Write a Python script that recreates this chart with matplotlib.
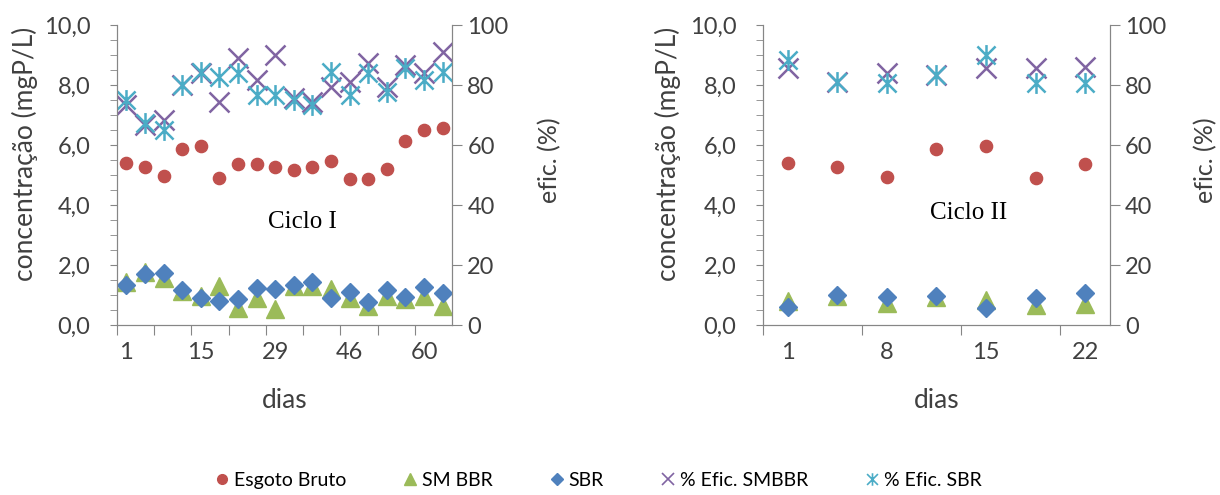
import matplotlib
matplotlib.use("Agg")
import matplotlib.pyplot as plt
from matplotlib.path import Path
from matplotlib.lines import Line2D
from matplotlib.ticker import MultipleLocator, FixedLocator, FuncFormatter

plt.rcParams['font.family'] = ['Lato', 'DejaVu Sans']

# Ciclo I
dias_c1 = [1, 4, 8, 11, 15, 18, 22, 25, 29, 32, 36, 39, 46, 50, 53, 57, 60, 64]
bruto_c1 = [5.39, 5.28, 4.97, 5.87, 5.97, 4.89, 5.36, 5.37, 5.28, 5.17, 5.28, 5.48, 4.87, 4.87, 5.19, 6.13, 6.50, 6.56]
smbbr_c1 = [1.42, 1.78, 1.58, 1.14, 0.97, 1.31, 0.58, 0.89, 0.53, 1.30, 1.31, 1.20, 0.89, 0.64, 0.97, 0.86, 0.97, 0.64]
sbr_c1 = [1.33, 1.70, 1.74, 1.17, 0.89, 0.81, 0.86, 1.22, 1.19, 1.33, 1.44, 0.89, 1.11, 0.78, 1.17, 0.94, 1.26, 1.06]
ef_smbbr_c1 = [73.5, 66.7, 68.3, 80.0, 83.9, 74.4, 88.9, 81.7, 90.0, 75.6, 74.4, 79.4, 81.0, 87.2, 79.4, 86.7, 83.9, 91.1]
ef_sbr_c1 = [75.0, 67.2, 65.0, 80.0, 84.4, 82.8, 83.9, 76.7, 76.7, 75.0, 73.3, 84.4, 76.7, 83.9, 77.8, 85.6, 81.7, 84.4]

# Ciclo II
dias_c2 = [1, 4, 8, 11, 15, 18, 22]
bruto_c2 = [5.39, 5.28, 4.94, 5.87, 5.97, 4.89, 5.36]
smbbr_c2 = [0.81, 0.97, 0.72, 0.92, 0.84, 0.66, 0.69]
sbr_c2 = [0.59, 1.00, 0.94, 0.97, 0.56, 0.89, 1.06]
ef_smbbr_c2 = [85.6, 81.1, 83.9, 83.3, 85.6, 85.6, 86.1]
ef_sbr_c2 = [88.3, 81.1, 80.6, 83.3, 90.0, 80.6, 80.6]

series_names = ['Esgoto Bruto', 'SM BBR', 'SBR', '% Efic. SMBBR', '% Efic. SBR']
colors = ['#C0504D', '#9BBB59', '#4F81BD', '#8064A2', '#4BACC6']
GRAY = '#868686'
TXT = '#404040'

# excel style star: an x with a vertical bar through it
star = Path([(-1, -1), (1, 1), (-1, 1), (1, -1), (0, -1.15), (0, 1.15)],
            [Path.MOVETO, Path.LINETO, Path.MOVETO, Path.LINETO, Path.MOVETO, Path.LINETO])

comma = FuncFormatter(lambda v, p: f"{v:.1f}".replace('.', ','))


def draw_panel(ax, dias, bruto, smbbr, sbr, ef1, ef2, step_lbl, titulo, tx, ty, ef_x):
    x = list(range(len(dias)))
    ax.plot(x, bruto, ls='none', marker='o', ms=8.8, color=colors[0], mec=colors[0])
    ax.plot(x, smbbr, ls='none', marker='^', ms=13, color=colors[1], mec=colors[1])
    ax.plot(x, sbr, ls='none', marker='D', ms=9.3, color=colors[2], mec=colors[2])
    ax.set_ylim(0, 10)
    ax.set_xlim(-0.5, len(dias) - 0.5)
    ax.yaxis.set_major_locator(MultipleLocator(2))
    ax.yaxis.set_minor_locator(MultipleLocator(0.5))
    ax.yaxis.set_major_formatter(comma)
    ax.tick_params(axis='y', which='both', direction='out', length=5, color=GRAY,
                   labelsize=17, labelcolor=TXT, pad=14)

    # category boundaries get tick marks, labels sit on the categories
    ax.xaxis.set_major_locator(FixedLocator([b - 0.5 for b in range(0, len(dias), 2)]))
    ax.xaxis.set_major_formatter(FuncFormatter(lambda v, p: ''))
    lbl_pos = list(range(0, len(dias), step_lbl))
    ax.xaxis.set_minor_locator(FixedLocator(lbl_pos))
    ax.set_xticklabels([str(dias[i]) for i in lbl_pos], minor=True)
    ax.tick_params(axis='x', which='major', direction='out', length=7, color=GRAY)
    ax.tick_params(axis='x', which='minor', length=0, labelsize=17, labelcolor=TXT, pad=12)

    ax.spines['top'].set_visible(False)
    for s in ['left', 'right', 'bottom']:
        ax.spines[s].set_color(GRAY)

    ax2 = ax.twinx()
    ax2.plot(x, ef1, ls='none', marker='x', ms=14, mew=1.8, color=colors[3])
    ax2.plot(x, ef2, ls='none', marker=star, ms=15, mew=1.8, mfc='none', color=colors[4])
    ax2.set_ylim(0, 100)
    ax2.yaxis.set_major_locator(MultipleLocator(20))
    ax2.tick_params(axis='y', direction='out', length=7, color=GRAY,
                    labelsize=17, labelcolor=TXT, pad=4)
    ax2.spines['top'].set_visible(False)
    for s in ['left', 'right', 'bottom']:
        ax2.spines[s].set_color(GRAY)

    ax.text(-0.275, 0.57, 'concentração (mgP/L)', rotation=90, transform=ax.transAxes,
            ha='center', va='center', fontsize=19, color=TXT)
    ax.text(ef_x, 0.55, 'efic. (%)', rotation=90, transform=ax.transAxes,
            ha='center', va='center', fontsize=18, color=TXT)
    ax.text(0.5, -0.25, 'dias', transform=ax.transAxes,
            ha='center', va='center', fontsize=19, color=TXT)
    ax.text(tx, ty, titulo, transform=ax.transAxes, ha='center', va='center',
            fontsize=18, family='Liberation Serif', color='black')


fig = plt.figure(figsize=(12.2, 4.95), dpi=100)
ax_l = fig.add_axes([0.0959, 0.3434, 0.2746, 0.606])
ax_r = fig.add_axes([0.6254, 0.3434, 0.2844, 0.606])

draw_panel(ax_l, dias_c1, bruto_c1, smbbr_c1, sbr_c1, ef_smbbr_c1, ef_sbr_c1, 4,
           'Ciclo I', 0.555, 0.345, 1.29)
draw_panel(ax_r, dias_c2, bruto_c2, smbbr_c2, sbr_c2, ef_smbbr_c2, ef_sbr_c2, 2,
           'Ciclo II', 0.594, 0.375, 1.275)

handles = [
    Line2D([], [], ls='none', marker='o', ms=7, color=colors[0]),
    Line2D([], [], ls='none', marker='^', ms=8, color=colors[1]),
    Line2D([], [], ls='none', marker='D', ms=6, color=colors[2]),
    Line2D([], [], ls='none', marker='x', ms=9, mew=1.2, color=colors[3]),
    Line2D([], [], ls='none', marker=star, ms=9, mew=1.2, mfc='none', color=colors[4]),
]
fig.legend(handles, series_names, loc='center', bbox_to_anchor=(0.49, 0.03), ncol=5,
           frameon=False, handlelength=0.8, handletextpad=0.2, columnspacing=2.9,
           prop={'size': 14}, labelcolor='black')

fig.savefig('out.png', dpi=100)
